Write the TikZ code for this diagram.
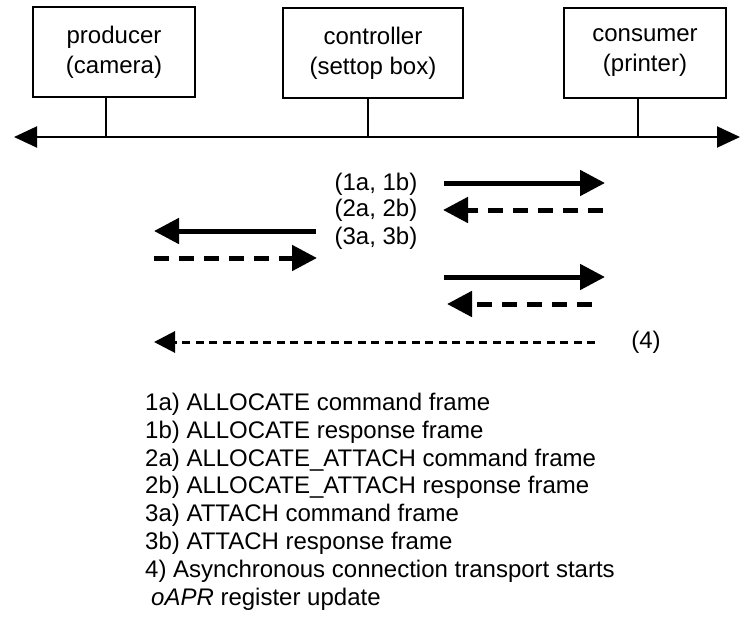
\documentclass[tikz,border=0pt]{standalone}
\usepackage{fontspec}
\setmainfont{Liberation Sans}
\usetikzlibrary{arrows.meta}
\tikzset{unitbox/.style={draw,line width=1.5pt,minimum width=162pt,minimum height=90pt,inner sep=0,align=center,font=\fontsize{24}{30}\selectfont},
 msg/.style={line width=5pt,-{Triangle[length=25pt,width=25pt]}},
 msgdash/.style={msg,dash pattern=on 15pt off 10pt},
 async/.style={line width=3pt,dash pattern=on 8pt off 5.5pt,-{Triangle[length=21pt,width=21pt]}},
 txt/.style={inner sep=0,font=\fontsize{24}{28}\selectfont}}

\begin{document}
\begin{tikzpicture}[x=1pt,y=-1pt]
 \useasboundingbox (0,0) rectangle (740,624);
 % devices on the bus
 \node[unitbox] (prod) at (114,52) {producer\\(camera)};
 \node[unitbox,minimum width=180pt] (ctrl) at (373,53) {controller\\(settop box)};
 \node[unitbox] (cons) at (645,53) {consumer\\(printer)};
 \coordinate (busL) at (14,137);
 \coordinate (busR) at (740,137);
 \coordinate (pj) at (106,137);
 \coordinate (cj) at (368,137);
 \coordinate (kj) at (638,137);
 \draw[line width=2pt,{Triangle[length=23pt,width=21pt]}-{Triangle[length=23pt,width=21pt]}] (busL) -- (busR);
 \draw[line width=1.5pt] (prod.south -| pj) -- (pj)  (ctrl.south -| cj) -- (cj)  (cons.south -| kj) -- (kj);
 % transactions
 \coordinate (m1s) at (444,183); \coordinate (m1e) at (605,183);
 \coordinate (m2s) at (603,210); \coordinate (m2e) at (443,210);
 \coordinate (m3s) at (316,231); \coordinate (m3e) at (154,231);
 \coordinate (m4s) at (154,258); \coordinate (m4e) at (317,258);
 \coordinate (m5s) at (444,277); \coordinate (m5e) at (605,277);
 \coordinate (m6s) at (592,304); \coordinate (m6e) at (447,304);
 \coordinate (m7s) at (595,342); \coordinate (m7e) at (154,342);
 \draw[msg] (m1s) -- (m1e);
 \draw[msgdash] (m2s) -- (m2e);
 \draw[msg] (m3s) -- (m3e);
 \draw[msgdash] (m4s) -- (m4e);
 \draw[msg] (m5s) -- (m5e);
 \draw[msgdash] (m6s) -- (m6e);
 \draw[async] (m7s) -- (m7e);
 \node[txt] (l1) at (376,184) {(1a, 1b)};
 \node[txt] (l2) at (376,210) {(2a, 2b)};
 \node[txt] (l3) at (376,238.5) {(3a, 3b)};
 \node[txt] (l4) at (646,342) {(4)};
 % legend
 \foreach \i/\t in {0/{1a) ALLOCATE command frame},1/{1b) ALLOCATE response frame},
   2/{2a) ALLOCATE\_ATTACH command frame},3/{2b) ALLOCATE\_ATTACH response frame},
   4/{3a) ATTACH command frame},5/{3b) ATTACH response frame},
   6/{4) Asynchronous connection transport starts}}{
   \node[txt,anchor=base west] (leg\i) at (145,{410.3+27.85*\i}) {\t};
 }
 \node[txt,anchor=base west] (leg7) at (151,605.3) {\textit{oAPR} register update};
\end{tikzpicture}
\end{document}
